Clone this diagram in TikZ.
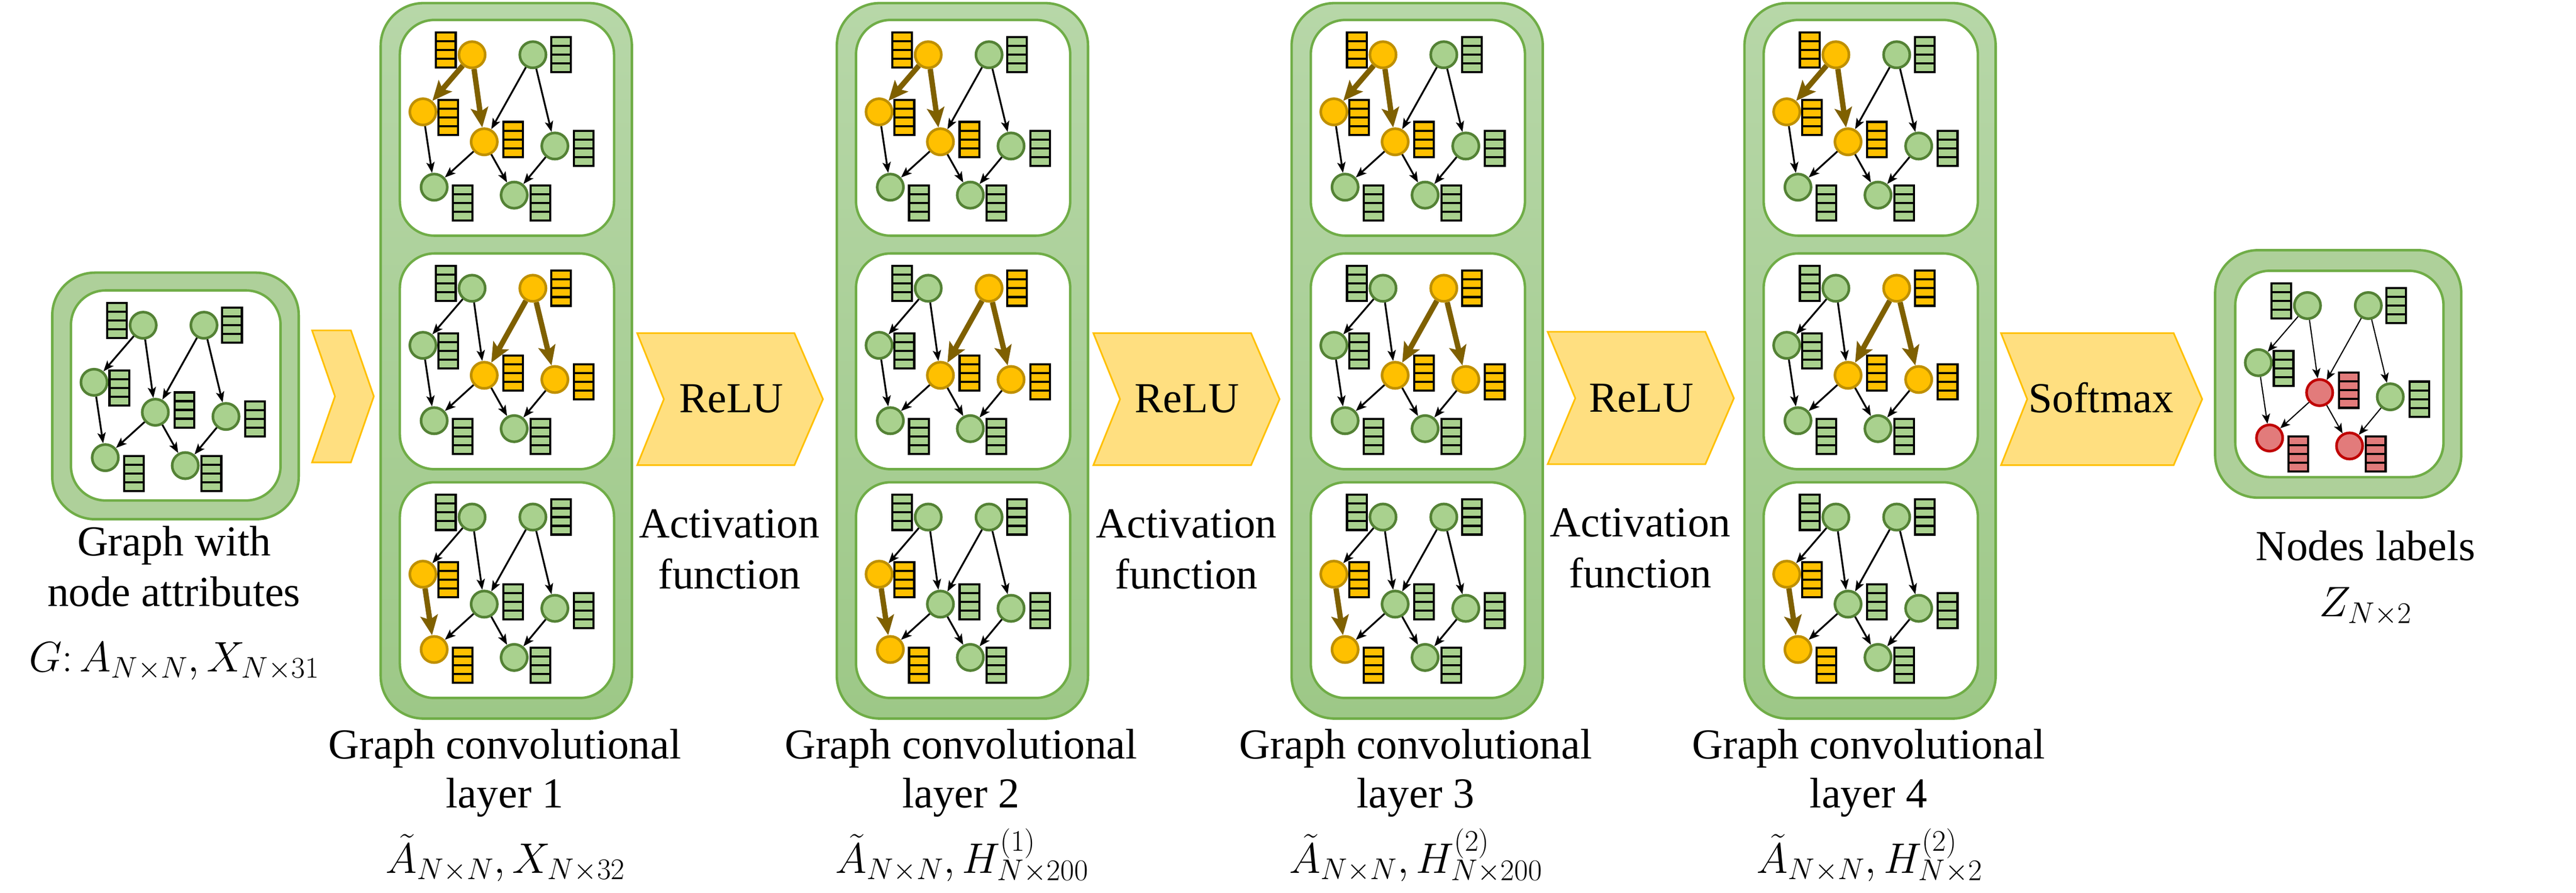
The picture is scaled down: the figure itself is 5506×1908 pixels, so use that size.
\RequirePackage{fix-cm}
\documentclass[tikz,border=0pt]{standalone}
\usepackage{fontspec}
\setmainfont{Liberation Serif}
\usetikzlibrary{arrows.meta,calc}
\definecolor{gfill}{HTML}{A9D18E}
\definecolor{gdraw}{HTML}{548235}
\definecolor{ofill}{HTML}{FFC000}
\definecolor{odraw}{HTML}{BF9000}
\definecolor{rfill}{HTML}{E27B7B}
\definecolor{rdraw}{HTML}{C00000}
\definecolor{brown}{HTML}{7F6000}
\definecolor{boxline}{HTML}{70AD47}
\definecolor{boxfill}{HTML}{AED09A}
\definecolor{coltop}{HTML}{B7D7A8}
\definecolor{colbot}{HTML}{9DC887}
\definecolor{chfill}{HTML}{FFDF80}
\definecolor{chdraw}{HTML}{FFC000}
\tikzset{
  gn/.style={circle,minimum size=31.9pt,inner sep=0pt,fill=gfill,draw=gdraw,line width=3.2pt},
  bar/.style={rectangle,minimum width=23.9pt,minimum height=42.7pt,inner sep=0pt,fill=gfill,draw=black,line width=2.6pt,
    path picture={\foreach \f in {0.25,0.5,0.75}{\draw[line width=2.6pt] ($(path picture bounding box.north west)!\f!(path picture bounding box.south west)$) -- ($(path picture bounding box.north east)!\f!(path picture bounding box.south east)$);}}},
  te/.style={draw=black,line width=2.2pt,-{Stealth[length=13pt,width=10pt,inset=3pt]}},
  ke/.style={draw=brown,line width=6.5pt,-{Stealth[length=24pt,width=21pt,inset=5pt]}},
  on/.style={fill=ofill,draw=odraw}, ob/.style={fill=ofill},
  rn/.style={fill=rfill,draw=rdraw}, rb/.style={fill=rfill},
  nA/.style={},nB/.style={},nC/.style={},nD/.style={},nE/.style={},nF/.style={},nG/.style={},
  bA/.style={},bB/.style={},bC/.style={},bD/.style={},bE/.style={},bF/.style={},bG/.style={},
  eAC/.style={},eAD/.style={},eBD/.style={},eBE/.style={},eCF/.style={},eDF/.style={},eDG/.style={},eEG/.style={},
  oA/.style={nA/.style=on,bA/.style=ob}, oB/.style={nB/.style=on,bB/.style=ob},
  oC/.style={nC/.style=on,bC/.style=ob}, oD/.style={nD/.style=on,bD/.style=ob},
  oE/.style={nE/.style=on,bE/.style=ob}, oF/.style={nF/.style=on,bF/.style=ob},
  pat1/.style={oA,oC,oD,eAC/.style=ke,eAD/.style=ke},
  pat2/.style={oB,oD,oE,eBD/.style=ke,eBE/.style=ke},
  pat3/.style={oC,oF,eCF/.style=ke},
  patout/.style={nD/.style=rn,bD/.style=rb,nF/.style=rn,bF/.style=rb,nG/.style=rn,bG/.style=rb,
    te/.style={draw=black,line width=1.4pt,-{Stealth[length=12pt,width=10pt,inset=3pt]}}},
  outerbox/.style={draw=boxline,line width=3pt,fill=boxfill,rounded corners=52pt,inner sep=0pt},
  innerbox/.style={draw=boxline,line width=3pt,fill=white,rounded corners=42pt,inner sep=0pt},
  colbox/.style={draw=boxline,line width=3pt,top color=coltop,bottom color=colbot,rounded corners=52pt,inner sep=0pt},
  chev/.style={fill=chfill,draw=chdraw,line width=2pt},
  txt/.style={font=\rmfamily\fontsize{52}{61}\selectfont,inner sep=0pt,anchor=base},
}
\newcommand\gcontent[1]{%
  \node[gn,nA] (#1A) at (157,77) {};
  \node[gn,nB] (#1B) at (287,77) {};
  \node[gn,nC] (#1C) at (52,199) {};
  \node[gn,nD] (#1D) at (183,263) {};
  \node[gn,nE] (#1E) at (334,272) {};
  \node[gn,nF] (#1F) at (76,360) {};
  \node[gn,nG] (#1G) at (247,377) {};
  \node[bar,bA] (#1bA) at (101,67) {};
  \node[bar,bB] (#1bB) at (347,77) {};
  \node[bar,bC] (#1bC) at (106,211) {};
  \node[bar,bD] (#1bD) at (245,258) {};
  \node[bar,bE] (#1bE) at (396,277) {};
  \node[bar,bF] (#1bF) at (137,394) {};
  \node[bar,bG] (#1bG) at (303,394) {};
  \draw[te,eAC] (#1A) -- (#1C);
  \draw[te,eAD] (#1A) -- (#1D);
  \draw[te,eBD] (#1B) -- (#1D);
  \draw[te,eBE] (#1B) -- (#1E);
  \draw[te,eCF] (#1C) -- (#1F);
  \draw[te,eDF] (#1D) -- (#1F);
  \draw[te,eDG] (#1D) -- (#1G);
  \draw[te,eEG] (#1E) -- (#1G);
}
\begin{document}
\begin{tikzpicture}[x=0.02cm,y=-0.02cm]
\useasboundingbox (0,0) rectangle (5506,1908);
% input
\node[outerbox,minimum width=299.9pt,minimum height=299.9pt,anchor=north west] (inO) at (109,580) {};
\node[innerbox,minimum width=255pt,minimum height=255.5pt,anchor=north west] (inI) at (149,618) {};
\begin{scope}[shift={(149,618)}] \gcontent{in} \end{scope}
\node[txt] (inT1) at (372,1188) {Graph with};
\node[txt] (inT2) at (372,1296) {node attributes};
\node[txt] (inT3) at (372,1435) {$G\colon A_{N\times N}, X_{N\times 31}$};
% chevrons
\draw[chev] (667,706) -- (750,706) -- (799,847) -- (750,988) -- (667,988) -- (716,847) -- cycle;
\draw[chev] (1362,712) -- (1698,712) -- (1759,853) -- (1698,994) -- (1362,994) -- (1419,853) -- cycle;
\draw[chev] (2337,712) -- (2674,712) -- (2735,853) -- (2674,994) -- (2337,994) -- (2394,853) -- cycle;
\draw[chev] (3308,709) -- (3645,709) -- (3706,851) -- (3645,992) -- (3308,992) -- (3367,851) -- cycle;
\draw[chev] (4277,712) -- (4646,712) -- (4707,853) -- (4646,994) -- (4277,994) -- (4333,853) -- cycle;
\node[txt] (r1) at (1563,882) {ReLU};
\node[txt] (r2) at (2537,882) {ReLU};
\node[txt] (r3) at (3508,880) {ReLU};
\node[txt] (sm) at (4491,882) {Softmax};
\node[txt] (a1a) at (1559,1149) {Activation};
\node[txt] (a1b) at (1559,1258) {function};
\node[txt] (a2a) at (2536,1149) {Activation};
\node[txt] (a2b) at (2536,1258) {function};
\node[txt] (a3a) at (3506,1147) {Activation};
\node[txt] (a3b) at (3506,1256) {function};
% columns
\foreach \cx [count=\i] in {811,1786,2758,3726}{
  \node[colbox,minimum width=305.6pt,minimum height=870.2pt,anchor=north west] (col\i) at (\cx,4) {};
  \foreach \py/\pt [count=\j] in {40/pat1,539/pat2,1028/pat3}{
    \node[innerbox,minimum width=260.6pt,minimum height=262.4pt,anchor=north west] (pan\i\j) at (\cx+41,\py) {};
    \begin{scope}[shift={(\cx+41,\py)},\pt] \gcontent{c\i p\j} \end{scope}
  }
  \node[txt] (ct\i a) at (\cx+268,1622) {Graph convolutional};
  \node[txt] (ct\i b) at (\cx+268,1726) {layer \i};
}
\node[txt] (m1) at (1080,1866) {$\tilde A_{N\times N}, X_{N\times 32}$};
\node[txt] (m2) at (2056,1866) {$\tilde A_{N\times N}, H^{(1)}_{N\times 200}$};
\node[txt] (m3) at (3026,1866) {$\tilde A_{N\times N}, H^{(2)}_{N\times 200}$};
\node[txt] (m4) at (3996,1866) {$\tilde A_{N\times N}, H^{(2)}_{N\times 2}$};
% output
\node[outerbox,minimum width=299.4pt,minimum height=301pt,anchor=north west] (outO) at (4732,532) {};
\node[innerbox,minimum width=253.3pt,minimum height=251pt,anchor=north west] (outI) at (4775,576) {};
\begin{scope}[shift={(4775,576)},patout] \gcontent{out} \end{scope}
\node[txt] (ot1) at (5056,1198) {Nodes labels};
\node[txt] (ot2) at (5056,1318) {$Z_{N\times 2}$};
\end{tikzpicture}
\end{document}
